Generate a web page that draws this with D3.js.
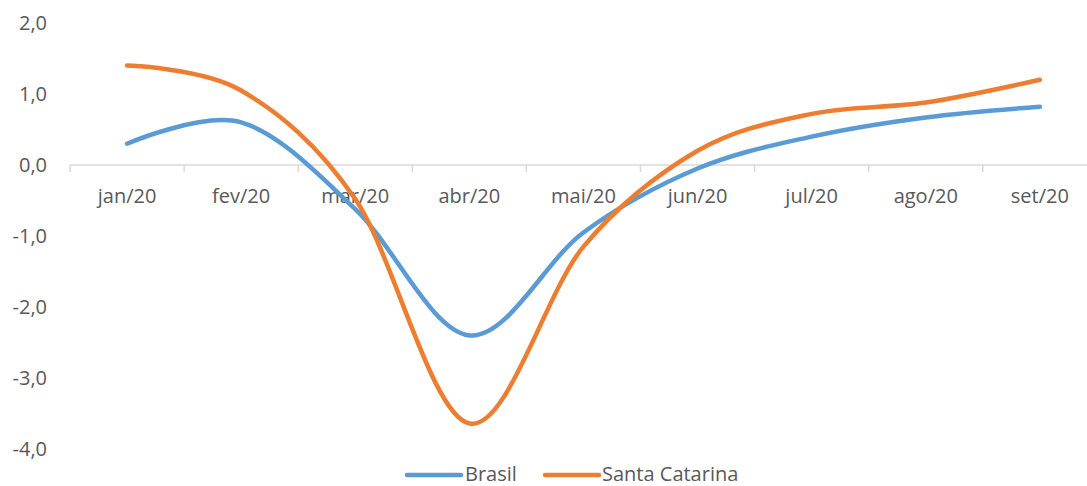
<!DOCTYPE html>
<html><head><meta charset="utf-8">
<script src="https://cdn.jsdelivr.net/npm/d3@7"></script>
<style>body{margin:0;background:#fff}svg{display:block}text{font-family:"Open Sans",sans-serif;fill:#595959}</style>
</head><body><svg id="c" width="1087" height="486"></svg>
<script>
const categories = ["jan/20","fev/20","mar/20","abr/20","mai/20","jun/20","jul/20","ago/20","set/20"];
const brasil = [0.3, 0.6, -0.62, -2.4, -0.95, -0.05, 0.4, 0.67, 0.82];
const santaCatarina = [1.4, 1.05, -0.48, -3.64, -1.15, 0.2, 0.72, 0.88, 1.2];
const yTicks = [2, 1, 0, -1, -2, -3, -4];
const seriesNames = ["Brasil", "Santa Catarina"];
const colors = ["#5B9BD5", "#ED7D31"];

const svg = d3.select("#c");
const x = d3.scaleBand().domain(categories).range([70, 70 + 114.1 * 9]);
const y = d3.scaleLinear().domain([-4, 2]).range([449, 23]);
const fmt = v => d3.format(".1f")(v).replace(".", ",").replace("−", "-");

svg.append("g").selectAll("text").data(yTicks).join("text")
  .attr("x", 47).attr("y", d => y(d)).attr("dy", "0.35em")
  .attr("text-anchor", "end").style("font-size", "20px").text(fmt);

const ax = svg.append("g").attr("transform", `translate(0,${y(0)})`);
ax.append("line").attr("x1", 70).attr("x2", 1087).attr("stroke", "#D9D9D9").attr("stroke-width", 1.5);
const edges = categories.map(c => x(c));
ax.selectAll("line.t").data(edges).join("line").attr("class", "t")
  .attr("x1", d => d).attr("x2", d => d).attr("y1", 0).attr("y2", 7)
  .attr("stroke", "#D9D9D9").attr("stroke-width", 1.5);
ax.selectAll("text").data(categories).join("text")
  .attr("x", d => x(d) + x.bandwidth() / 2).attr("y", 31).attr("dy", "0.35em")
  .attr("text-anchor", "middle").style("font-size", "20px").text(d => d);

const line = d3.line().x((d, i) => x(categories[i]) + x.bandwidth() / 2).y(d => y(d))
  .curve(d3.curveCatmullRom.alpha(0));
[brasil, santaCatarina].forEach((s, k) => {
  svg.append("path").datum(s).attr("d", line).attr("fill", "none")
    .attr("stroke", colors[k]).attr("stroke-width", 4.5).attr("stroke-linecap", "round");
});

const leg = [{x1: 407, tx: 465}, {x1: 545, tx: 602}];
seriesNames.forEach((n, k) => {
  svg.append("line").attr("x1", leg[k].x1).attr("x2", leg[k].x1 + 54).attr("y1", 475).attr("y2", 475)
    .attr("stroke", colors[k]).attr("stroke-width", 4.5).attr("stroke-linecap", "round");
  svg.append("text").attr("x", leg[k].tx).attr("y", 474).attr("dy", "0.35em")
    .style("font-size", "20px").text(n);
});
</script></body></html>
